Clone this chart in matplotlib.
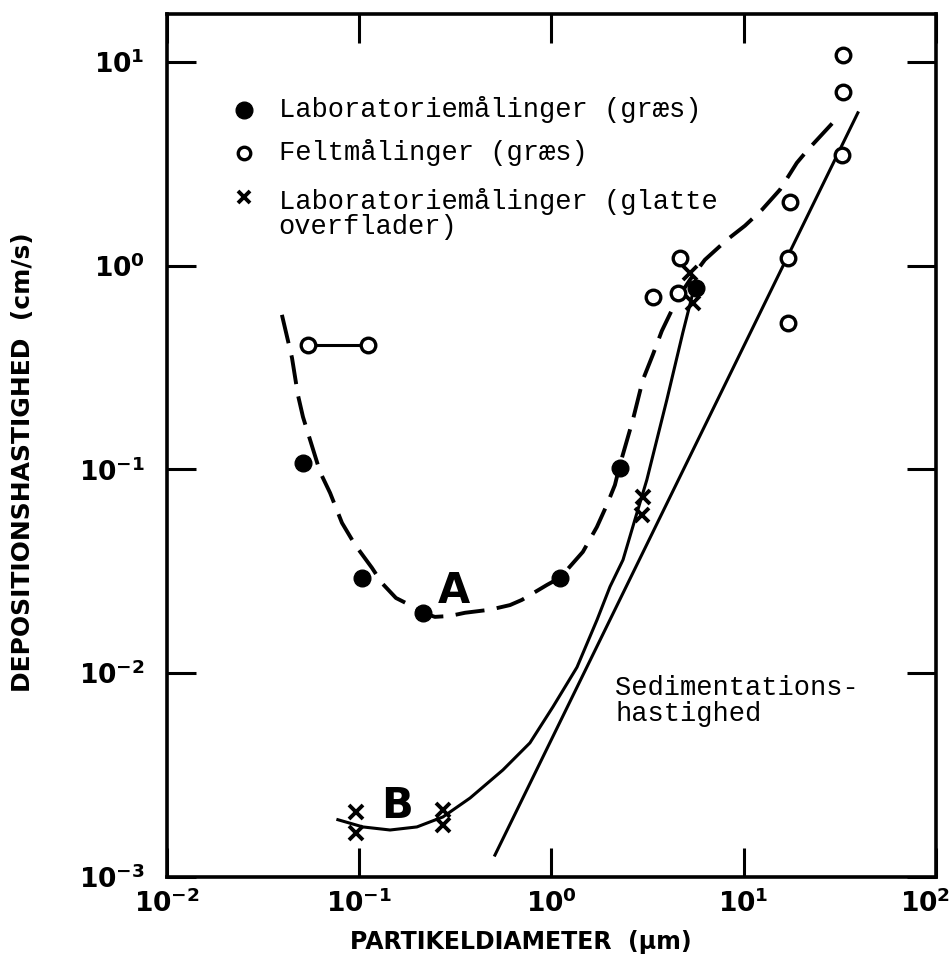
import matplotlib
matplotlib.use("Agg")
import matplotlib.pyplot as plt
from matplotlib.ticker import FixedLocator, NullLocator
from matplotlib.transforms import ScaledTranslation

# Laboratoriemålinger (græs) - filled circles
lab_gras_x = [0.0511, 0.1035, 0.215, 1.108, 2.274, 5.65]
lab_gras_y = [0.1077, 0.0294, 0.0198, 0.0294, 0.102, 0.780]

# Feltmålinger (græs) - open circles
felt_x = [3.37, 4.67, 4.55, 17.4, 17.0, 17.0, 32.8, 32.8, 32.4]
felt_y = [0.703, 1.094, 0.736, 2.06, 1.09, 0.525, 10.8, 7.14, 3.50]
felt_pair_x = [0.0542, 0.111]
felt_pair_y = [0.409, 0.409]

# Laboratoriemålinger (glatte overflader) - crosses
glat_x = [0.0964, 0.0964, 0.273, 0.273, 2.99, 2.96, 5.26, 5.45]
glat_y = [0.00208, 0.00164, 0.00213, 0.00180, 0.0735, 0.0598, 0.923, 0.658]

# curve A (dashed)
curve_a_x = [0.0397, 0.0448, 0.0481, 0.0511, 0.0556, 0.0627, 0.0707, 0.0815, 0.0953,
             0.1167, 0.1315, 0.1556, 0.184, 0.215, 0.248, 0.297, 0.356, 0.480, 0.610,
             0.703, 0.948, 1.108, 1.205, 1.459, 1.726, 1.945, 2.142, 2.274, 2.655,
             2.992, 3.375, 3.758, 4.498, 5.26, 6.29, 8.19, 10.16, 12.45, 15.45,
             18.93, 21.6, 29.1]
curve_a_y = [0.574, 0.353, 0.232, 0.181, 0.140, 0.0972, 0.0767, 0.0547, 0.0427,
             0.0329, 0.0277, 0.0234, 0.0216, 0.0198, 0.0189, 0.0191, 0.0198, 0.0205,
             0.0216, 0.0229, 0.0271, 0.0294, 0.0321, 0.0394, 0.0522, 0.0670, 0.0839,
             0.1054, 0.175, 0.275, 0.366, 0.479, 0.681, 0.853, 1.069, 1.340, 1.571,
             1.880, 2.36, 3.20, 3.71, 5.03]

# curve B (solid)
curve_b_x = [0.0776, 0.1047, 0.145, 0.200, 0.273, 0.378, 0.560, 0.774, 1.02, 1.36,
             1.73, 2.02, 2.36, 2.72, 3.14, 3.99, 4.83, 5.45]
curve_b_y = [0.00191, 0.00176, 0.00170, 0.00176, 0.00197, 0.00244, 0.00335, 0.00455,
             0.00684, 0.0107, 0.0183, 0.0266, 0.0360, 0.0566, 0.0890, 0.220, 0.469, 0.736]

# sedimentation velocity line
sed_x = [0.509, 39.3]
sed_y = [0.00128, 5.63]

x_ticks = [1e-2, 1e-1, 1e0, 1e1, 1e2]
x_labels = [r'$\mathbf{10^{-2}}$', r'$\mathbf{10^{-1}}$', r'$\mathbf{10^{0}}$',
            r'$\mathbf{10^{1}}$', r'$\mathbf{10^{2}}$']
y_ticks = [1e-3, 1e-2, 1e-1, 1e0, 1e1]
y_labels = [r'$\mathbf{10^{-3}}$', r'$\mathbf{10^{-2}}$', r'$\mathbf{10^{-1}}$',
            r'$\mathbf{10^{0}}$', r'$\mathbf{10^{1}}$']

mono = 'Liberation Mono'

fig = plt.figure(figsize=(9.53, 9.58), dpi=100)
ax = fig.add_axes([0.175, 0.0846, 0.807, 0.9008])
ax.set_xscale('log')
ax.set_yscale('log')
ax.set_xlim(1e-2, 1e2)
ax.set_ylim(1e-3, 17.2)

# curves
ax.plot(curve_a_x, curve_a_y, color='black', lw=2.8, linestyle=(0, (7.5, 3.2)),
        solid_capstyle='butt')
ax.plot(curve_b_x, curve_b_y, color='black', lw=2.2)
ax.plot(sed_x, sed_y, color='black', lw=2.2)
ax.plot(felt_pair_x, felt_pair_y, color='black', lw=2.2)

# points
ax.plot(lab_gras_x, lab_gras_y, 'o', color='black', ms=12, zorder=4)
ax.plot(felt_x + felt_pair_x, felt_y + felt_pair_y, 'o', mfc='white', mec='black',
        ms=10.5, mew=2.4, zorder=5)
ax.plot(glat_x, glat_y, 'x', color='black', ms=10, mew=2.8, zorder=6)

# axes styling
for s in ax.spines.values():
    s.set_linewidth(2.6)
ax.xaxis.set_major_locator(FixedLocator(x_ticks))
ax.yaxis.set_major_locator(FixedLocator(y_ticks))
ax.xaxis.set_minor_locator(NullLocator())
ax.yaxis.set_minor_locator(NullLocator())
ax.set_xticklabels(x_labels)
ax.set_yticklabels(y_labels)
ax.tick_params(which='major', direction='in', top=True, right=True,
               length=21, width=2.2, labelsize=19)
ax.tick_params(axis='x', pad=9)
ax.tick_params(axis='y', pad=16)
# keep the last x label inside the figure
last = ax.get_xticklabels()[-1]
last.set_transform(last.get_transform() + ScaledTranslation(-8 / 72, 0, fig.dpi_scale_trans))

# legend drawn by hand (marker aligned with first text line)
ax.plot([0.101], [0.889], 'o', color='black', ms=12, transform=ax.transAxes)
ax.plot([0.101], [0.839], 'o', mfc='white', mec='black', ms=9, mew=2.4,
        transform=ax.transAxes)
ax.plot([0.101], [0.788], 'x', color='black', ms=9, mew=2.8, transform=ax.transAxes)
ax.text(0.1455, 0.889, 'Laboratoriemålinger (græs)', family=mono, fontsize=19.5,
        va='center', transform=ax.transAxes)
ax.text(0.1455, 0.839, 'Feltmålinger (græs)', family=mono, fontsize=19.5,
        va='center', transform=ax.transAxes)
ax.text(0.1455, 0.798, 'Laboratoriemålinger (glatte\noverflader)', family=mono,
        fontsize=19.5, va='top', linespacing=0.95, transform=ax.transAxes)

# annotations
ax.text(0.313, 0.0253, 'A', fontsize=30, fontweight='bold', ha='center', va='center')
ax.text(0.157, 0.00223, 'B', fontsize=30, fontweight='bold', ha='center', va='center')
ax.text(0.583, 0.234, 'Sedimentations-\nhastighed', family=mono, fontsize=19.5,
        va='top', linespacing=1.0, transform=ax.transAxes)

fig.text(0.024, 0.518, 'DEPOSITIONSHASTIGHED  (cm/s)', rotation=90, fontsize=18,
         fontweight='bold', ha='center', va='center')
fig.text(0.547, 0.0045, 'PARTIKELDIAMETER  (µm)', fontsize=17, fontweight='bold',
         ha='center', va='bottom')

fig.savefig('out.png', dpi=100)
